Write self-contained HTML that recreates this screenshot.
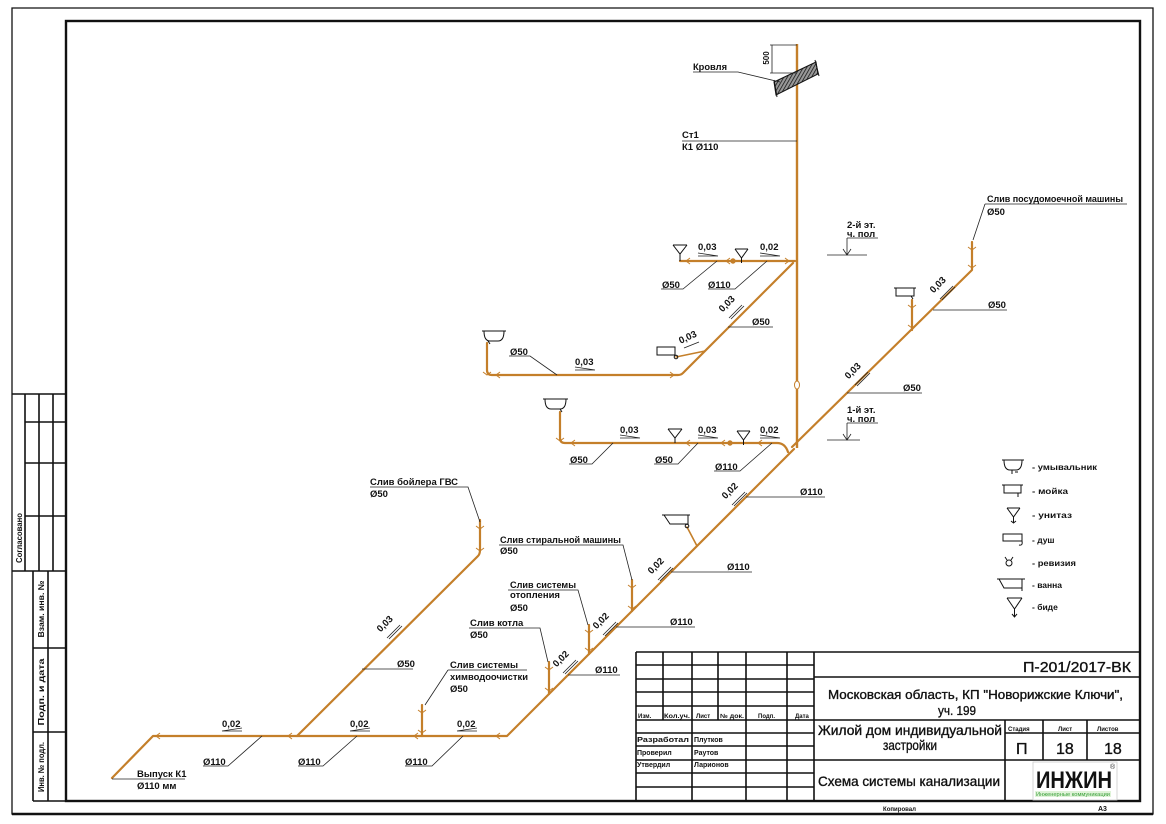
<!DOCTYPE html>
<html><head><meta charset="utf-8"><style>
html,body{margin:0;padding:0;background:#fff;}
svg{display:block;}
.t{font-family:"Liberation Sans",sans-serif;font-weight:bold;font-size:9.5px;fill:#111;}
.s{font-family:"Liberation Sans",sans-serif;font-weight:bold;font-size:6px;fill:#111;}
.m{font-family:"Liberation Sans",sans-serif;font-size:13px;fill:#111;stroke:#111;stroke-width:0.35;}
.p{fill:none;stroke:#c47f2a;stroke-width:2.2;stroke-linejoin:round;stroke-linecap:round;}
.f{fill:none;stroke:#c47f2a;stroke-width:1;}
.l{fill:none;stroke:#222;stroke-width:0.8;}
.b{fill:none;stroke:#111;stroke-width:1;}
.k{fill:none;stroke:#111;stroke-width:1.6;}
</style></head><body>
<svg width="1166" height="824" viewBox="0 0 1166 824" xmlns="http://www.w3.org/2000/svg">
<defs>
<pattern id="h" patternUnits="userSpaceOnUse" width="3" height="3" patternTransform="rotate(30)">
<rect width="3" height="3" fill="#999"/><line x1="0" y1="0" x2="0" y2="3" stroke="#111" stroke-width="1.5"/>
</pattern>
</defs>
<rect width="1166" height="824" fill="#fff"/>

<path d="M12,8 H1153 V814 H12 Z" fill="none" stroke="#111" stroke-width="1.3"/>
<line x1="12" y1="814" x2="1153" y2="814" stroke="#111" stroke-width="2.4"/>
<rect x="66" y="21" width="1074" height="780" fill="none" stroke="#111" stroke-width="2.4"/>

<g class="k">
<path d="M12,394 H66 M25,394 V571 M39,394 V571 M53,394 V571 M25,422 H66 M25,463 H66 M25,516 H66 M12,571 H66"/>
<path d="M33,571 V801 M48,571 V801 M33,648 H66 M33,732 H66 M33,801 H66"/>
</g>
<text class="s" style="font-size:8.5px" transform="translate(22,538) rotate(-90)" text-anchor="middle" textLength="50" lengthAdjust="spacingAndGlyphs">Согласовано</text>
<text class="s" style="font-size:8.5px" transform="translate(44,609) rotate(-90)" text-anchor="middle" textLength="57" lengthAdjust="spacingAndGlyphs">Взам. инв. №</text>
<text class="s" style="font-size:8.5px" transform="translate(44,692) rotate(-90)" text-anchor="middle" textLength="67" lengthAdjust="spacingAndGlyphs">Подп. и дата</text>
<text class="s" style="font-size:8.5px" transform="translate(44,767) rotate(-90)" text-anchor="middle" textLength="50" lengthAdjust="spacingAndGlyphs">Инв. № подл.</text>

<g class="k">
<path d="M636,652 H1140 M636,652 V801 M814,652 V801"/>
<path d="M636,665 H814 M636,679 H814 M636,692 H814 M636,706 H814 M636,720 H814 M636,733 H814 M636,746 H814 M636,760 H814 M636,773 H814 M636,787 H814"/>
<path d="M663,652 V720 M718,652 V720 M692,652 V801 M746,652 V801 M787,652 V801"/>
<path d="M814,677 H1140 M814,720 H1140 M814,760 H1140 M1005,720 V801 M1043,720 V760 M1087,720 V760 M1005,733 H1140"/>
</g>
<text class="s" x="638" y="718">Изм.</text>
<text class="s" x="664" y="718" textLength="26" lengthAdjust="spacingAndGlyphs">Кол.уч.</text>
<text class="s" x="696" y="718">Лист</text>
<text class="s" x="720" y="718" textLength="24" lengthAdjust="spacingAndGlyphs">№ док.</text>
<text class="s" x="758" y="718">Подп.</text>
<text class="s" x="795" y="718">Дата</text>
<text class="s" style="font-size:7px" x="637" y="742" textLength="52" lengthAdjust="spacingAndGlyphs">Разработал</text>
<text class="s" style="font-size:7px" x="694" y="742">Плутков</text>
<text class="s" style="font-size:7px" x="637" y="755">Проверил</text>
<text class="s" style="font-size:7px" x="694" y="755">Раутов</text>
<text class="s" style="font-size:7px" x="637" y="767">Утвердил</text>
<text class="s" style="font-size:7px" x="694" y="767">Ларионов</text>

<text class="m" style="font-size:15px" x="1023" y="672" textLength="108" lengthAdjust="spacingAndGlyphs">П-201/2017-ВК</text>
<text class="m" x="828" y="699" textLength="295" lengthAdjust="spacingAndGlyphs">Московская область, КП "Новорижские Ключи",</text>
<text class="m" x="938" y="715" textLength="38" lengthAdjust="spacingAndGlyphs">уч. 199</text>
<text class="m" style="font-size:14px" x="818" y="735" textLength="184" lengthAdjust="spacingAndGlyphs">Жилой дом индивидуальной</text>
<text class="m" style="font-size:14px" x="883" y="750" textLength="54" lengthAdjust="spacingAndGlyphs">застройки</text>
<text class="m" style="font-size:14px" x="818" y="786" textLength="182" lengthAdjust="spacingAndGlyphs">Схема системы канализации</text>
<text class="s" x="1008" y="731">Стадия</text>
<text class="s" x="1058" y="731">Лист</text>
<text class="s" x="1097" y="731">Листов</text>
<text class="m" style="font-size:16px" x="1016" y="754">П</text>
<text class="m" style="font-size:16px" x="1056" y="754">18</text>
<text class="m" style="font-size:16px" x="1104" y="754">18</text>
<rect x="1033" y="762" width="84" height="38" fill="#fff" stroke="#ccc" stroke-width="0.8"/>
<text x="1036" y="788" style="font-family:'Liberation Sans',sans-serif;font-weight:bold;font-size:24px;fill:#111" textLength="76" lengthAdjust="spacingAndGlyphs">ИНЖИН</text>
<rect x="1035" y="791" width="76" height="6" fill="#dff3d8"/>
<text x="1036" y="796" style="font-family:'Liberation Sans',sans-serif;font-size:5px;fill:#3aa03a" textLength="74" lengthAdjust="spacingAndGlyphs">Инженерные коммуникации</text>
<text x="1110" y="769" style="font-family:'Liberation Sans',sans-serif;font-size:7px;fill:#333">®</text>
<text class="s" x="883" y="811" textLength="33" lengthAdjust="spacingAndGlyphs">Копировал</text>
<text class="s" style="font-size:7px" x="1098" y="811">А3</text>

<line x1="797" y1="44" x2="797" y2="448" stroke="#c47f2a" stroke-width="2.4"/>
<ellipse cx="797" cy="385" rx="2.5" ry="4" fill="#fff" stroke="#c47f2a" stroke-width="1"/>
<path class="p" d="M680,261 H795"/>
<path class="p" d="M793,263 L683,373 Q681,375 678,375 H492 Q487,375 487,370 V343"/>
<path class="p" style="stroke-width:1.5" d="M676,357 L705,351"/>
<path class="p" d="M560,412 V438 Q560,443 565,443 H777 Q785,443 788,452"/>
<path class="p" d="M972,242 V270 L792,447"/>
<path class="p" d="M912,300 V330"/>
<path class="p" d="M794,449 L507,736 H153 L112,778"/>
<path class="p" d="M632,580 V611"/>
<path class="p" d="M589,625 V654"/>
<path class="p" d="M549,662 V694"/>
<path class="p" style="stroke-width:1.6" d="M687,527 L697,546"/>
<path class="p" d="M422,705 V736"/>
<path class="p" d="M297,736 L478,556 Q480,554 480,550 V520"/>

<g class="f">
<path d="M483,372 l4,3 l4,-3 M556,438 l4,3 l4,-3 M628,585 l4,3 l4,-3 M628,606 l4,3 l4,-3 M585,630 l4,3 l4,-3 M585,648 l4,3 l4,-3 M545,667 l4,3 l4,-3 M545,688 l4,3 l4,-3 M418,710 l4,3 l4,-3 M418,730 l4,3 l4,-3 M476,526 l4,3 l4,-3 M476,548 l4,3 l4,-3 M968,247 l4,3 l4,-3 M968,265 l4,3 l4,-3 M908,305 l4,3 l4,-3 M908,325 l4,3 l4,-3"/>
<path d="M160,733 l-4,3 l4,3 M292,733 l-4,3 l4,3 M418,733 l-4,3 l4,3 M500,733 l-4,3 l4,3 M690,258 l-4,3 l4,3 M730,258 l-4,3 l4,3 M785,258 l4,3 l-4,3 M500,372 l-4,3 l4,3 M670,372 l4,3 l-4,3 M575,440 l-4,3 l4,3 M690,440 l-4,3 l4,3 M725,440 l-4,3 l4,3 M762,440 l-4,3 l4,3"/>
<circle cx="733" cy="261" r="2.2" fill="#c47f2a"/>
<circle cx="730" cy="443" r="2.2" fill="#c47f2a"/>
</g>

<g class="b">
<path d="M673,245 H687 M673,245 L680,254 L687,245 M680,254 V261"/>
<path d="M735,249 H748 M735,249 L741.5,258 L748,249 M741.5,258 V263"/>
<path d="M482,331 H506 M484,331 Q484,341 490,341 H498 Q504,341 504,331 M488,341 l2,3"/>
<rect x="657" y="347" width="18" height="8"/>
<circle cx="676" cy="357" r="1.8"/>
<path d="M543,399 H568 M545,399 Q545,409 551,409 H560 Q566,409 566,399 M560,409 l2,3"/>
<path d="M668,429 H682 M668,429 L675,438 L682,429 M675,438 V443"/>
<path d="M737,431 H750 M737,431 L743.5,440 L750,431 M743.5,440 V445"/>
<path d="M894,288 H916 M896,288 V296 H914 V288 M911,296 l2,3"/>
<path d="M662,515 H690 M664,515 L670,524 H688 V515"/>
<circle cx="687" cy="526" r="1.8"/>
</g>

<polygon points="774,82 816,62 818,74 776,95" fill="url(#h)" stroke="#111" stroke-width="1"/>
<path class="b" d="M774,80 L777,97 M815,60 L819,76"/>
<path class="l" d="M770,45 H797 M770,73 H797 M772,45 V73"/>
<text class="t" style="font-size:8px" transform="translate(769,58) rotate(-90)" text-anchor="middle">500</text>

<g class="l">
<path d="M693,72 H738 L780,82"/>
<path d="M682,141 H797"/>
<path d="M847,238 H878 M847,238 V255 M827,255 H867 M843,249 L847,255 L851,249"/>
<path d="M847,423 H878 M847,423 V440 M827,440 H860 M843,434 L847,440 L851,434"/>
<path d="M985,204 H1127 M985,204 L973,240"/>
<path d="M933,310 H1007 M847,393 H922"/>
<path d="M661,289 H683 L717,261 M708,289 H735 L767,261"/>
<path d="M728,327 H773"/>
<path d="M509,356 H530 L557,375"/>
<path d="M569,464 H592 L613,443 M654,464 H678 L698,443 M714,471 H740 L772,443"/>
<path d="M746,497 H825 M671,572 H752 M616,627 H695 M568,675 H620"/>
<path d="M499,545 H623 L632,580"/>
<path d="M508,590 H578 L588,625"/>
<path d="M469,628 H540 L548,662"/>
<path d="M448,670 H527 M448,670 L425,705"/>
<path d="M370,487 H468 L480,522"/>
<path d="M362,669 H413"/>
<path d="M203,766 H228 L262,736 M298,766 H323 L357,736 M405,766 H432 L463,736"/>
<path d="M112,779 H185"/>
</g>
<g class="l">
<path d="M698,256 H718 M698,253 L718,256"/>
<path d="M760,256 H780 M760,253 L780,256"/>
<path d="M575,370 H595 M575,367 L595,370"/>
<path d="M620,438 H640 M620,435 L640,438"/>
<path d="M698,438 H718 M698,435 L718,438"/>
<path d="M760,438 H780 M760,435 L780,438"/>
<path d="M222,731 H242 M222,731 L242,728"/>
<path d="M350,731 H370 M350,731 L370,728"/>
<path d="M457,731 H477 M457,731 L477,728"/>
<path d="M732,505 L745,492 M734,506 L747,493"/>
<path d="M658,580 L671,567 M660,581 L673,568"/>
<path d="M603,635 L616,622 M605,636 L618,623"/>
<path d="M563,673 L576,660 M565,674 L578,661"/>
<path d="M387,638 L400,625 M389,639 L402,626"/>
<path d="M729,318 L742,305 M731,319 L744,306"/>
<path d="M940,299 L953,286 M942,300 L955,287"/>
<path d="M855,385 L868,372 M857,386 L870,373"/>
<path d="M684,348 L699,342"/>
</g>

<text class="t" x="693" y="70" textLength="34" lengthAdjust="spacingAndGlyphs">Кровля</text>
<text class="t" x="682" y="138">Ст1</text>
<text class="t" x="682" y="150">К1 Ø110</text>
<text class="t" x="847" y="228">2-й эт.</text>
<text class="t" x="847" y="237">ч. пол</text>
<text class="t" x="847" y="413">1-й эт.</text>
<text class="t" x="847" y="422">ч. пол</text>
<text class="t" x="987" y="202" textLength="136" lengthAdjust="spacingAndGlyphs">Слив посудомоечной машины</text>
<text class="t" x="987" y="215">Ø50</text>
<text class="t" x="988" y="308">Ø50</text>
<text class="t" x="903" y="391">Ø50</text>
<text class="t" transform="translate(940,287) rotate(-45)" text-anchor="middle">0,03</text>
<text class="t" transform="translate(855,373) rotate(-45)" text-anchor="middle">0,03</text>

<text class="t" x="698" y="250">0,03</text>
<text class="t" x="760" y="250">0,02</text>
<text class="t" x="662" y="288">Ø50</text>
<text class="t" x="708" y="288">Ø110</text>
<text class="t" transform="translate(729,306) rotate(-45)" text-anchor="middle">0,03</text>
<text class="t" x="752" y="325">Ø50</text>
<text class="t" transform="translate(689,340) rotate(-25)" text-anchor="middle">0,03</text>
<text class="t" x="510" y="355">Ø50</text>
<text class="t" x="575" y="365">0,03</text>

<text class="t" x="620" y="433">0,03</text>
<text class="t" x="698" y="433">0,03</text>
<text class="t" x="760" y="433">0,02</text>
<text class="t" x="570" y="463">Ø50</text>
<text class="t" x="655" y="463">Ø50</text>
<text class="t" x="715" y="470">Ø110</text>

<text class="t" transform="translate(732,493) rotate(-45)" text-anchor="middle">0,02</text>
<text class="t" x="800" y="495">Ø110</text>
<text class="t" transform="translate(658,568) rotate(-45)" text-anchor="middle">0,02</text>
<text class="t" x="727" y="570">Ø110</text>
<text class="t" transform="translate(603,623) rotate(-45)" text-anchor="middle">0,02</text>
<text class="t" x="670" y="625">Ø110</text>
<text class="t" transform="translate(563,661) rotate(-45)" text-anchor="middle">0,02</text>
<text class="t" x="595" y="673">Ø110</text>

<text class="t" x="500" y="543" textLength="121" lengthAdjust="spacingAndGlyphs">Слив стиральной машины</text>
<text class="t" x="500" y="554">Ø50</text>
<text class="t" x="510" y="588" textLength="66" lengthAdjust="spacingAndGlyphs">Слив системы</text>
<text class="t" x="510" y="598">отопления</text>
<text class="t" x="510" y="611">Ø50</text>
<text class="t" x="470" y="626">Слив котла</text>
<text class="t" x="470" y="638">Ø50</text>
<text class="t" x="450" y="668" textLength="68" lengthAdjust="spacingAndGlyphs">Слив системы</text>
<text class="t" x="450" y="680" textLength="78" lengthAdjust="spacingAndGlyphs">химводоочистки</text>
<text class="t" x="450" y="692">Ø50</text>
<text class="t" x="370" y="485" textLength="88" lengthAdjust="spacingAndGlyphs">Слив бойлера ГВС</text>
<text class="t" x="370" y="497">Ø50</text>
<text class="t" transform="translate(387,626) rotate(-45)" text-anchor="middle">0,03</text>
<text class="t" x="397" y="667">Ø50</text>

<text class="t" x="222" y="727">0,02</text>
<text class="t" x="350" y="727">0,02</text>
<text class="t" x="457" y="727">0,02</text>
<text class="t" x="203" y="765">Ø110</text>
<text class="t" x="298" y="765">Ø110</text>
<text class="t" x="405" y="765">Ø110</text>
<text class="t" x="137" y="777">Выпуск К1</text>
<text class="t" x="137" y="789">Ø110 мм</text>

<g class="b">
<path d="M1002,460 H1024 M1004,460 Q1004,470 1010,470 H1016 Q1022,470 1022,460 M1012,470 V474 M1015,472 H1018"/>
<path d="M1002,485 H1023 M1004,485 V493 H1021 V485 M1018,493 V497"/>
<path d="M1007,508 H1020 M1007,508 L1013.5,517 L1020,508 M1013.5,517 V523 M1011,521 L1013.5,523 L1016,521"/>
<rect x="1003" y="534" width="19" height="7"/>
<path d="M1022,541 Q1023,546 1019,545"/>
<circle cx="1009" cy="563" r="3"/>
<path d="M1005,557 L1007,560 M1013,557 L1011,560"/>
<path d="M997,579 H1025 M999,579 L1004,588 H1022 V579 M1022,588 V591"/>
<path d="M1007,598 H1022 M1007,598 L1014.5,609 L1022,598 M1014.5,609 V617 M1012,614 L1014.5,617 L1017,614"/>
</g>
<text class="t" x="1032" y="470" style="font-size:8.5px" textLength="65" lengthAdjust="spacingAndGlyphs">- умывальник</text>
<text class="t" x="1032" y="494" style="font-size:8.5px" textLength="36" lengthAdjust="spacingAndGlyphs">- мойка</text>
<text class="t" x="1032" y="518" style="font-size:8.5px" textLength="40" lengthAdjust="spacingAndGlyphs">- унитаз</text>
<text class="t" x="1032" y="543" style="font-size:8.5px">- душ</text>
<text class="t" x="1032" y="566" style="font-size:8.5px" textLength="44" lengthAdjust="spacingAndGlyphs">- ревизия</text>
<text class="t" x="1032" y="588" style="font-size:8.5px">- ванна</text>
<text class="t" x="1032" y="610" style="font-size:8.5px">- биде</text>
</svg>
</body></html>
